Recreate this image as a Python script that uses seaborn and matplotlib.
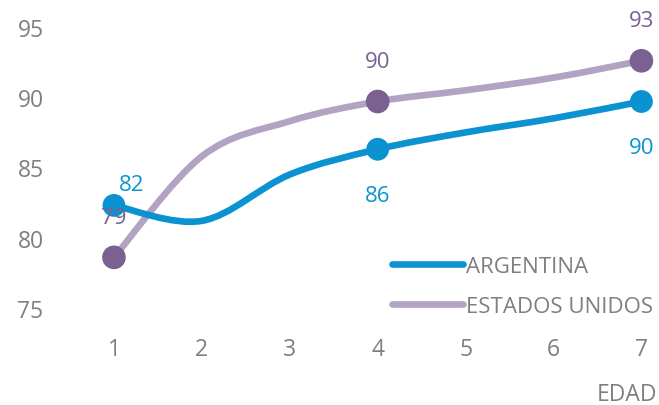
import matplotlib
matplotlib.use('Agg')
import matplotlib.pyplot as plt
from matplotlib.path import Path
from matplotlib.patches import PathPatch
from matplotlib.lines import Line2D
import seaborn as sns
import numpy as np
import pandas as pd

# values
edad = [1, 2, 3, 4, 5, 6, 7]
argentina = [82.3, 81.2, 84.5, 86.3, 87.5, 88.5, 89.7]
estados_unidos = [78.6, 85.8, 88.3, 89.7, 90.5, 91.4, 92.6]
marked = [1, 4, 7]
y_ticks = [75, 80, 85, 90, 95]

BLUE = '#0B93D1'
LAVENDER = '#B2A3C3'
PURPLE = '#7A6192'
GREY = '#7F7F7F'


def smooth_path(xs, ys):
    # Catmull-Rom style cubic bezier through the points (like Excel's smoothed line)
    pts = np.column_stack([xs, ys]).astype(float)
    n = len(pts)
    verts = [pts[0]]
    codes = [Path.MOVETO]
    for i in range(n - 1):
        p0 = pts[max(i - 1, 0)]
        p1 = pts[i]
        p2 = pts[i + 1]
        p3 = pts[min(i + 2, n - 1)]
        c1 = p1 + (p2 - p0) / 6.0
        c2 = p2 - (p3 - p1) / 6.0
        verts += [c1, c2, p2]
        codes += [Path.CURVE4] * 3
    return Path(verts, codes)


def main():
    sns.set_theme(style='white')
    plt.rcParams['font.family'] = ['Open Sans', 'DejaVu Sans']

    fig = plt.figure(figsize=(6.59, 4.06), dpi=100)
    ax = fig.add_axes([70 / 659, 1 - 337 / 406, (659 - 70) / 659, 337 / 406])

    df = pd.DataFrame({'edad': edad, 'ARGENTINA': argentina,
                       'ESTADOS UNIDOS': estados_unidos})
    pts = df[df['edad'].isin(marked)]

    # smoothed lines
    for col, color in [('ESTADOS UNIDOS', LAVENDER), ('ARGENTINA', BLUE)]:
        patch = PathPatch(smooth_path(df['edad'], df[col]), facecolor='none',
                          edgecolor=color, lw=4.8, capstyle='round', zorder=2)
        ax.add_patch(patch)

    sns.scatterplot(data=pts, x='edad', y='ESTADOS UNIDOS', color=PURPLE, s=290,
                    edgecolor='none', ax=ax, zorder=3, clip_on=False)
    sns.scatterplot(data=pts, x='edad', y='ARGENTINA', color=BLUE, s=270,
                    edgecolor='none', ax=ax, zorder=4, clip_on=False)

    # data labels
    for x, v in zip(pts['edad'], pts['ARGENTINA']):
        if x == 1:
            ax.annotate('{:.0f}'.format(v), (x, v), xytext=(13, 15),
                        textcoords='offset points', ha='center', va='center',
                        color=BLUE, fontsize=16, zorder=5)
        else:
            ax.annotate('{:.0f}'.format(v), (x, v), xytext=(0, -33),
                        textcoords='offset points', ha='center', va='center',
                        color=BLUE, fontsize=16, zorder=5)
    for x, v in zip(pts['edad'], pts['ESTADOS UNIDOS']):
        ax.annotate('{:.0f}'.format(v), (x, v), xytext=(0, 29),
                    textcoords='offset points', ha='center', va='center',
                    color=PURPLE, fontsize=16, zorder=5)

    ax.set_xlim(0.5, 7.2)
    ax.set_ylim(73, 97)
    ax.set_xticks(edad)
    ax.set_yticks(y_ticks)
    ax.tick_params(axis='y', labelsize=16.5, labelcolor=GREY, length=0, pad=19)
    ax.tick_params(axis='x', labelsize=16.5, labelcolor=GREY, length=0, pad=1)
    ax.set_xlabel('')
    ax.set_ylabel('')
    sns.despine(ax=ax, left=True, bottom=True)
    ax.grid(False)

    fig.text(657 / 659, 1 - 395 / 406, 'EDAD', ha='right', va='center',
             color=GREY, fontsize=16.5)

    handles = [Line2D([], [], color=BLUE, lw=4.8, solid_capstyle='round'),
               Line2D([], [], color=LAVENDER, lw=4.8, solid_capstyle='round')]
    leg = ax.legend(handles, ['ARGENTINA', 'ESTADOS UNIDOS'], frameon=False,
                    loc='upper left', bbox_to_anchor=(392 / 659, 1 - 257 / 406),
                    bbox_transform=fig.transFigure, fontsize=16,
                    handlelength=3.2, handletextpad=0.15, labelspacing=0.85,
                    borderpad=0, borderaxespad=0)
    for t in leg.get_texts():
        t.set_color(GREY)

    fig.savefig('out.png', dpi=100)


if __name__ == '__main__':
    main()
